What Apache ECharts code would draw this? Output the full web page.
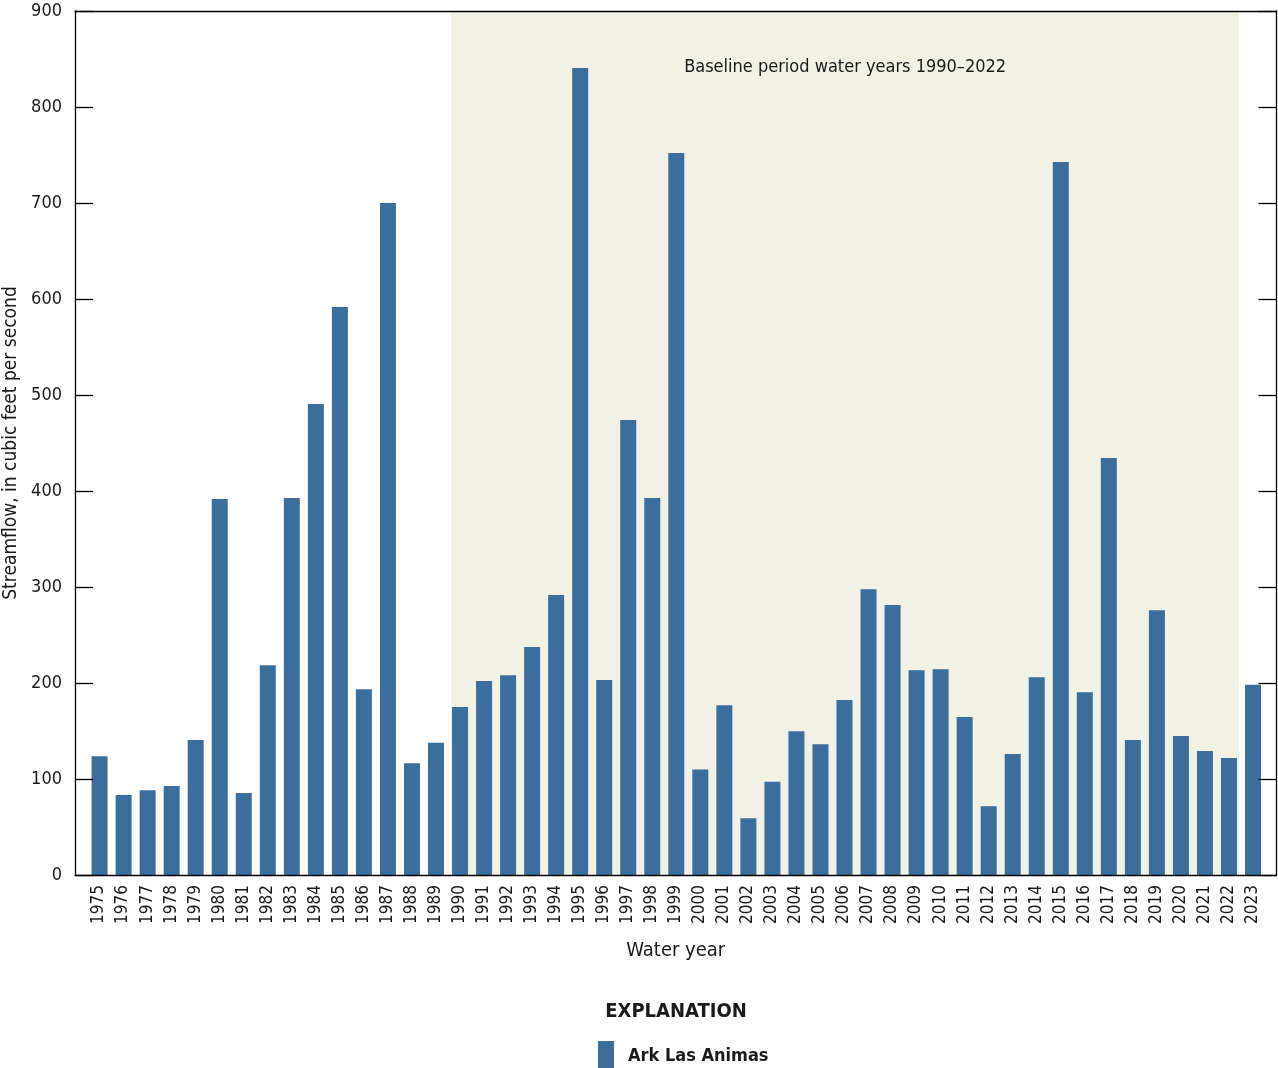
<!DOCTYPE html>
<html>
<head>
<meta charset="utf-8">
<script src="https://cdn.jsdelivr.net/npm/echarts@6/dist/echarts.min.js"></script>
<style>
  html, body { margin: 0; padding: 0; background: #fff; }
  #main { width: 1278px; height: 1068px; }
</style>
</head>
<body>
<div id="main"></div>
<script>
// water years and mean streamflow (cfs)
var years = [1975, 1976, 1977, 1978, 1979, 1980, 1981, 1982, 1983, 1984,
    1985, 1986, 1987, 1988, 1989, 1990, 1991, 1992, 1993, 1994,
    1995, 1996, 1997, 1998, 1999, 2000, 2001, 2002, 2003, 2004,
    2005, 2006, 2007, 2008, 2009, 2010, 2011, 2012, 2013, 2014,
    2015, 2016, 2017, 2018, 2019, 2020, 2021, 2022, 2023];
var flows = [123.6, 83.3, 88.2, 92.7, 140.6, 391.7, 85.4, 218.4, 392.7, 490.6,
    591.7, 193.4, 700, 116.3, 137.8, 175, 202, 208, 237.5, 291.7,
    840.6, 203, 474, 392.7, 752, 110, 176.7, 59, 97.2, 149.7,
    136.1, 182.3, 297.6, 281.2, 213.2, 214.2, 164.6, 71.5, 126, 205.9,
    742.7, 190.3, 434.4, 140.6, 275.7, 144.8, 129.2, 121.9, 198.2];
var baseline = [1990, 2022];
var yTicks = [0, 100, 200, 300, 400, 500, 600, 700, 800, 900];

var font = '"Liberation Sans Narrow", "DejaVu Sans Condensed", sans-serif';
var txt = '#1a1a1a';

var chart = echarts.init(document.getElementById('main'), null, { renderer: 'canvas' });

var option = {
    animation: false,
    title: {
        text: 'EXPLANATION',
        left: 671,
        textAlign: 'center',
        top: 997,
        textStyle: { fontFamily: font, fontSize: 20, fontWeight: 'bold', color: txt }
    },
    legend: {
        data: ['Ark Las Animas'],
        left: 593,
        top: 1036,
        icon: 'rect',
        itemWidth: 16,
        itemHeight: 30,
        textStyle: { fontFamily: font, fontSize: 18, fontWeight: 'bold', color: txt, padding: [0, 0, 0, 9] }
    },
    grid: {
        left: 75,
        right: 1.5,
        top: 11,
        bottom: 1068 - 875,
        outerBoundsMode: 'none',
        containLabel: false
    },
    xAxis: [{
        type: 'value',
        min: years[0] - 1,
        max: years[years.length - 1] + 1,
        interval: 1,
        name: 'Water year',
        nameLocation: 'middle',
        nameGap: 66,
        nameTextStyle: { fontFamily: font, fontSize: 20, color: txt },
        z: 10,
        axisLine: { show: true, onZero: false, lineStyle: { color: '#000', width: 1.3 } },
        axisTick: { show: false },
        splitLine: { show: false },
        axisLabel: {
            rotate: 90,
            margin: 10,
            showMinLabel: false,
            showMaxLabel: false,
            fontFamily: font,
            fontSize: 17,
            color: txt,
            formatter: function (v) { return String(v); }
        }
    }, {
        type: 'value',
        position: 'top',
        min: years[0] - 1,
        max: years[years.length - 1] + 1,
        z: 10,
        axisLine: { show: true, onZero: false, lineStyle: { color: '#000', width: 1.3 } },
        axisTick: { show: false },
        axisLabel: { show: false },
        splitLine: { show: false }
    }],
    yAxis: [{
        type: 'value',
        min: yTicks[0],
        max: yTicks[yTicks.length - 1],
        interval: 100,
        name: 'Streamflow, in cubic feet per second',
        nameLocation: 'middle',
        nameGap: 49,
        nameTextStyle: { fontFamily: font, fontSize: 19, color: txt },
        z: 10,
        axisLine: { show: true, onZero: false, lineStyle: { color: '#000', width: 1.3 } },
        axisTick: { show: true, inside: true, length: 18, lineStyle: { color: '#000', width: 1.3 } },
        splitLine: { show: false },
        axisLabel: { margin: 13, fontFamily: font, fontSize: 18, color: txt }
    }, {
        type: 'value',
        position: 'right',
        min: yTicks[0],
        max: yTicks[yTicks.length - 1],
        interval: 100,
        z: 10,
        axisLine: { show: true, onZero: false, lineStyle: { color: '#000', width: 1.3 } },
        axisTick: { show: true, inside: true, length: 18, lineStyle: { color: '#000', width: 1.3 } },
        axisLabel: { show: false },
        splitLine: { show: false }
    }],
    series: [{
        // shaded baseline period
        name: 'baseline',
        type: 'bar',
        data: [],
        z: 1,
        markArea: {
            silent: true,
            itemStyle: { color: '#f1f1e4' },
            label: {
                show: true,
                position: 'insideTop',
                distance: 47,
                fontFamily: font,
                fontSize: 18,
                color: txt
            },
            data: [[
                { name: 'Baseline period water years ' + baseline[0] + '\u2013' + baseline[1], xAxis: baseline[0] - 0.35 },
                { xAxis: baseline[1] + 0.45 }
            ]]
        }
    }, {
        name: 'Ark Las Animas',
        type: 'bar',
        z: 5,
        barWidth: 16,
        itemStyle: { color: '#3c6e9d' },
        data: years.map(function (y, i) { return [y, flows[i]]; })
    }]
};

chart.setOption(option);
</script>
</body>
</html>
